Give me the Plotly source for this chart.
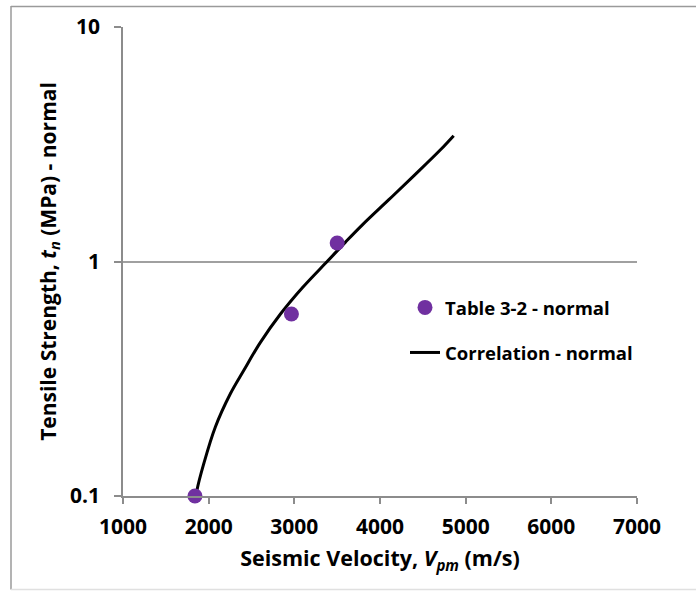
import plotly.graph_objects as go

# Measured tensile strength (Table 3-2, normal)
table_velocity = [1840, 2966, 3500]
table_strength = [0.100, 0.597, 1.20]

# Correlation curve, normal
corr_velocity = [1856, 1864, 1942, 2078, 2253, 2409, 2604, 2838, 3091,
                 3383, 3597, 3800, 4100, 4400, 4700, 4860]
corr_strength = [0.100, 0.106, 0.137, 0.197, 0.273, 0.343, 0.452, 0.597, 0.771,
                 1.00, 1.21, 1.44, 1.83, 2.33, 2.98, 3.44]

x_ticks = [1000, 2000, 3000, 4000, 5000, 6000, 7000]
y_ticks = [0.1, 1, 10]
y_tick_text = ["0.1", "1", "10"]

FONT = "Open Sans"
BLACK = "#000000"
AXIS_GRAY = "#8c8c8c"

fig = go.Figure()

fig.add_trace(go.Scatter(
    x=corr_velocity, y=corr_strength, mode="lines",
    name="Correlation - normal",
    line=dict(color=BLACK, width=3, shape="spline", smoothing=1.0),
    legendgroup="b", legendrank=2,
))
fig.add_trace(go.Scatter(
    x=table_velocity, y=table_strength, mode="markers",
    name="Table 3-2 - normal",
    marker=dict(color="#7030A0", size=15, line=dict(width=0)),
    legendgroup="a", legendrank=1, cliponaxis=False,
))

W, H = 696, 591
L, R, T, B = 123, 59, 25, 95
pw, ph = W - L - R, H - T - B


def px_x(p):
    return (p - L) / pw


def px_y(p):
    return (H - B - p) / ph


# Outer chart frame
frame = [
    dict(x0=px_x(11), x1=px_x(11), y0=px_y(4), y1=px_y(590), c="#9a9a9a"),
    dict(x0=px_x(11), x1=px_x(700), y0=px_y(4.5), y1=px_y(4.5), c="#9a9a9a"),
    dict(x0=px_x(11), x1=px_x(700), y0=px_y(590), y1=px_y(590), c="#e0e0e0"),
]
shapes = [dict(type="line", xref="paper", yref="paper",
               x0=f["x0"], x1=f["x1"], y0=f["y0"], y1=f["y1"],
               line=dict(color=f["c"], width=1.5), layer="below")
          for f in frame]

fig.update_layout(
    width=W, height=H,
    margin=dict(l=L, r=R, t=T, b=B),
    paper_bgcolor="white", plot_bgcolor="white",
    font=dict(family=FONT, color=BLACK, size=20),
    shapes=shapes,
    showlegend=True,
    legend=dict(
        x=px_x(405), y=px_y(288), xanchor="left", yanchor="top",
        bgcolor="rgba(0,0,0,0)", borderwidth=0,
        font=dict(family=FONT, size=18.5, color=BLACK, weight="bold"),
        traceorder="grouped", tracegroupgap=18,
        itemwidth=30,
    ),
    xaxis=dict(
        range=[1000, 7000], tickvals=x_ticks,
        showgrid=False, zeroline=False,
        showline=True, linecolor=AXIS_GRAY, linewidth=1.5,
        ticks="outside", ticklen=6, tickcolor=AXIS_GRAY, tickwidth=1.5,
        tickfont=dict(family=FONT, size=21, color=BLACK, weight="bold"),
        ticklabelstandoff=5,
        title=dict(text="Seismic Velocity, <i>V<sub>pm</sub></i> (m/s)",
                   font=dict(family=FONT, size=21.5, color=BLACK, weight="bold"),
                   standoff=12),
    ),
    yaxis=dict(
        type="log", range=[-1, 1], tickvals=y_ticks, ticktext=y_tick_text,
        showgrid=True, gridcolor="#a0a0a0", gridwidth=1.5,
        zeroline=False,
        showline=True, linecolor=AXIS_GRAY, linewidth=1.5,
        ticks="outside", ticklen=7, tickcolor=AXIS_GRAY, tickwidth=1.5,
        tickfont=dict(family=FONT, size=21, color=BLACK, weight="bold"),
        ticklabelstandoff=10,
        title=dict(text="Tensile Strength, <i>t<sub>n</sub></i> (MPa) - normal",
                   font=dict(family=FONT, size=21, color=BLACK, weight="bold"),
                   standoff=8),
    ),
)

fig.write_html("out.html")
